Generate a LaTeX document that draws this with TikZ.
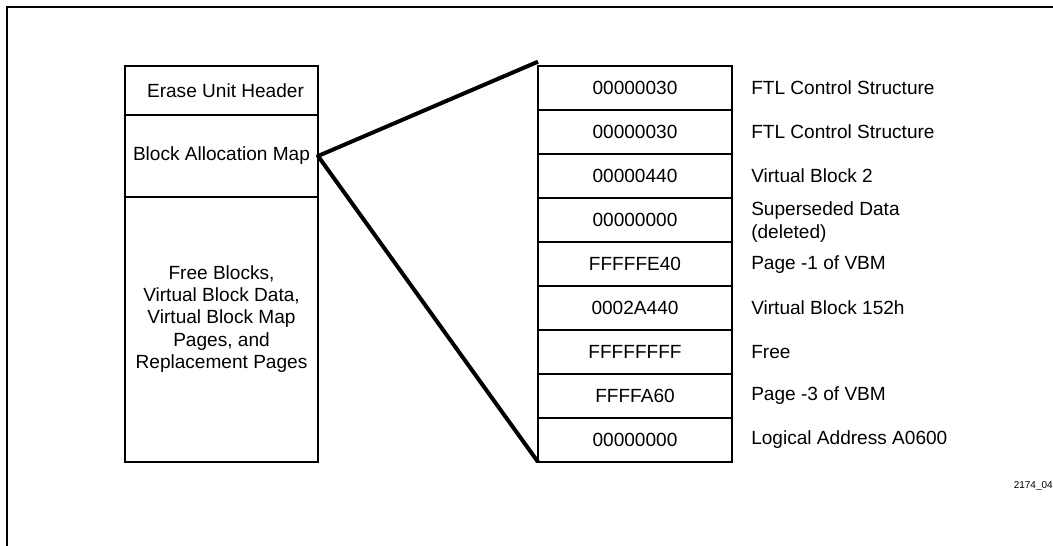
\documentclass[tikz,border=0pt]{standalone}
\usepackage{fontspec}
\setmainfont{Liberation Sans}
\begin{document}
\begin{tikzpicture}[x=0.75pt,y=-0.75pt,
  txt/.style={font=\fontsize{14.3pt}{16.6pt}\selectfont},
  cell/.style={txt,draw,line width=1.2pt,inner sep=0pt,outer sep=0pt,
    minimum width=194*0.75pt,minimum height=44.03*0.75pt},
  part/.style={txt,draw,line width=1.2pt,inner sep=0pt,outer sep=0pt,
    minimum width=193*0.75pt},
  desc/.style={txt,anchor=west,inner sep=0pt,align=left},
  fan/.style={line width=3pt,line join=round}]
\useasboundingbox (0,0) rectangle (1053,546);

% outer frame: top and left edges only
\draw[line width=1.5pt] (6.5,546) -- (6.5,6.5) -- (1053,6.5);

% erase unit layout
\node[part,minimum height=49.3*0.75pt] (euh) at (221.5,90.35) {\hspace*{6pt}Erase Unit Header};
\node[part,minimum height=82*0.75pt] (bam) at (221.5,156) {Block Allocation Map};
\node[part,minimum height=265*0.75pt] (free) at (221.5,329.5) {};
\node[txt,align=center,inner sep=0pt]
  (freetxt) at (221.5,319) {Free Blocks,\\Virtual Block Data,\\Virtual Block Map\\Pages, and\\Replacement Pages};

% block allocation map entries
\foreach \i/\v in {1/00000030,2/00000030,3/00000440,4/00000000,5/FFFFFE40,
                   6/0002A440,7/FFFFFFFF,8/FFFFA60,9/00000000}
  \node[cell] (c\i) at (635,{65.7+44.03*(\i-0.5)}) {\v};

\node[desc] (d1) at (751,87.7) {FTL Control Structure};
\node[desc] (d2) at (751,131.8) {FTL Control Structure};
\node[desc] (d3) at (751,175.8) {Virtual Block 2};
\node[desc] (d4) at (751,222) {Superseded Data\\(deleted)};
\node[desc] (d5) at (751,264.5) {Page -1 of VBM};
\node[desc] (d6) at (751,307.9) {Virtual Block 152h};
\node[desc] (d7) at (751,351.9) {Free};
\node[desc] (d8) at (751,396.0) {Page -3 of VBM};
\node[desc] (d9) at (751,440.0) {Logical Address A0600};

% expansion lines from the map to its entries
\coordinate (apex) at ([yshift=3pt]c1.north west);
\draw[fan] (apex) -- (bam.east) -- (c9.south west);

% figure number
\node[anchor=east,inner sep=0pt,font=\fontsize{7.5pt}{9pt}\selectfont] (fig) at (1053,486) {2174\_04};
\end{tikzpicture}
\end{document}
